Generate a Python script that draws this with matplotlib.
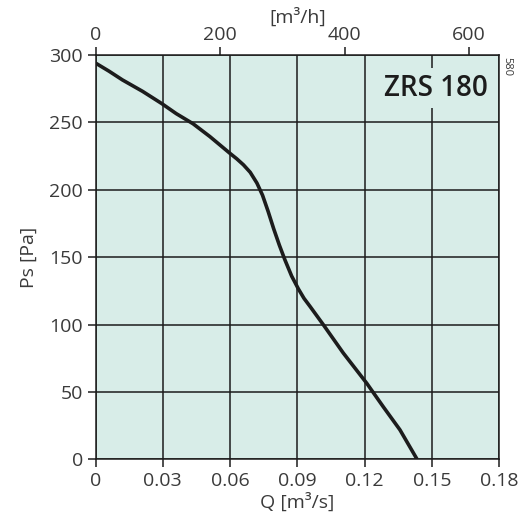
#!/usr/bin/env python3
"""Fan curve ZRS 180: static pressure against air flow."""

import matplotlib

matplotlib.use("Agg")
import matplotlib.pyplot as plt

FLOW_M3S = [0.0, 0.006, 0.012, 0.021, 0.0295, 0.036, 0.0435, 0.051, 0.06,
            0.063, 0.066, 0.069, 0.072, 0.0745, 0.077, 0.0795, 0.082, 0.0845,
            0.0875, 0.0905, 0.093, 0.0957, 0.1016, 0.1105, 0.121, 0.1284,
            0.1358, 0.1435]
PRESSURE_PA = [294.0, 288.0, 281.5, 273.0, 264.0, 256.5, 249.0, 239.5, 227.0,
               223.0, 218.5, 213.0, 205.0, 196.0, 184.0, 171.0, 159.0, 148.0,
               136.0, 126.5, 119.5, 113.5, 100.0, 79.0, 56.5, 39.0, 22.0, 0.0]

Q_TICKS = [0, 0.03, 0.06, 0.09, 0.12, 0.15, 0.18]
Q_LABELS = ["0", "0.03", "0.06", "0.09", "0.12", "0.15", "0.18"]
PS_TICKS = [0, 50, 100, 150, 200, 250, 300]
M3H_TICKS = [0, 200, 400, 600]

BG = "#d8ede8"
INK = "#1c1c1c"
TXT = "#3a3a3a"

plt.rcParams["font.family"] = ["Open Sans", "DejaVu Sans"]

fig = plt.figure(figsize=(5.24, 5.25), dpi=100)
ax = fig.add_axes([0.1823, 0.1248, 0.770, 0.7705])
ax.set_facecolor(BG)

ax.plot(FLOW_M3S, PRESSURE_PA, color=INK, lw=2.6, solid_joinstyle="round",
        solid_capstyle="butt", zorder=3)

ax.set_xlim(0, 0.18)
ax.set_ylim(0, 300)
ax.set_xticks(Q_TICKS)
ax.set_xticklabels(Q_LABELS)
ax.set_yticks(PS_TICKS)
ax.grid(True, color=INK, lw=1.1)
ax.set_axisbelow(True)
for side in ax.spines.values():
    side.set_color(INK)
    side.set_linewidth(1.1)
ax.tick_params(direction="out", length=6, width=1.1, color=INK,
               labelsize=14, labelcolor=TXT, pad=3)

top = ax.secondary_xaxis("top", functions=(lambda q: q * 3600, lambda h: h / 3600))
top.set_xticks(M3H_TICKS)
top.tick_params(direction="out", length=6, width=1.1, color=INK,
                labelsize=14, labelcolor=TXT, pad=2)
top.spines["top"].set_visible(False)
top.set_xlabel("[m³/h]", fontsize=14, color=TXT, labelpad=2)

ax.set_xlabel("Q [m³/s]", fontsize=14, color=TXT, labelpad=2)
ax.set_ylabel("Ps [Pa]", fontsize=14, color=TXT, labelpad=8)

ax.text(0.973, 0.918, "ZRS 180", transform=ax.transAxes, ha="right", va="center",
        fontsize=20, fontweight="semibold", color=INK, zorder=4,
        bbox=dict(boxstyle="square,pad=0.2", facecolor=BG, edgecolor="none"))
ax.text(1.006, 0.995, "580", transform=ax.transAxes, ha="left", va="top",
        rotation=270, fontsize=8, color=TXT)

fig.savefig("out.png", dpi=100)
